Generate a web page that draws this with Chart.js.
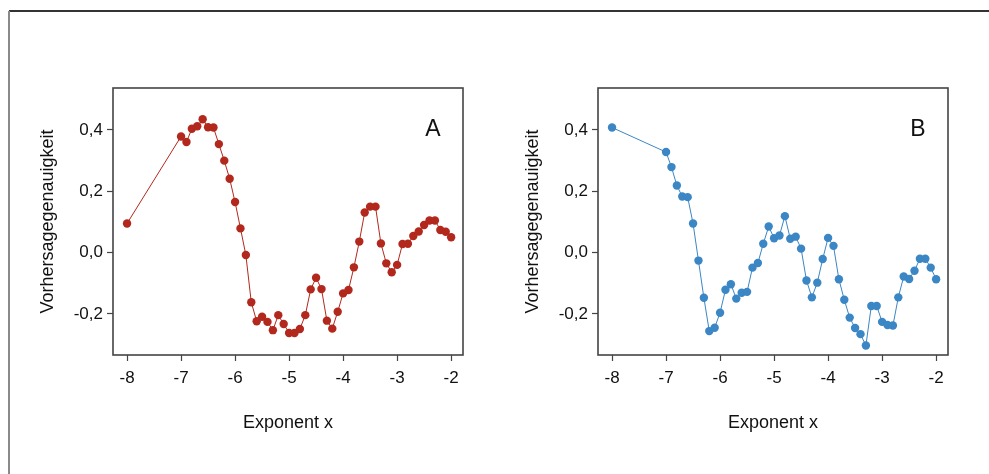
<!DOCTYPE html>
<html>
<head>
<meta charset="utf-8">
<script src="https://cdn.jsdelivr.net/npm/chart.js@4.4.1/dist/chart.umd.min.js"></script>
<style>
  html, body { margin: 0; padding: 0; background: #fff; }
  body { width: 989px; height: 474px; position: relative; overflow: hidden; }
  .frame-top { position: absolute; left: 9px; top: 10px; width: 980px; height: 0; border-top: 2px solid #333; }
  .frame-left { position: absolute; left: 8px; top: 11px; width: 0; height: 463px; border-left: 2px solid #8a8a8a; }
  .panel { position: absolute; top: 0; width: 490px; height: 474px; }
  #panelA { left: 0; }
  #panelB { left: 485px; }
</style>
</head>
<body>
<div class="frame-top"></div>
<div class="frame-left"></div>
<div class="panel" id="panelA"><canvas id="chartA"></canvas></div>
<div class="panel" id="panelB"><canvas id="chartB"></canvas></div>
<script>
// Exponent values (x) shared by both panels
const exponents = [-8.0,
  -7.0, -6.9, -6.8, -6.7, -6.6, -6.5, -6.4, -6.3, -6.2, -6.1,
  -6.0, -5.9, -5.8, -5.7, -5.6, -5.5, -5.4, -5.3, -5.2, -5.1,
  -5.0, -4.9, -4.8, -4.7, -4.6, -4.5, -4.4, -4.3, -4.2, -4.1,
  -4.0, -3.9, -3.8, -3.7, -3.6, -3.5, -3.4, -3.3, -3.2, -3.1,
  -3.0, -2.9, -2.8, -2.7, -2.6, -2.5, -2.4, -2.3, -2.2, -2.1,
  -2.0];

// Panel A: Vorhersagegenauigkeit
const accuracyA = [0.095,
  0.379, 0.361, 0.404, 0.412, 0.435, 0.409, 0.408, 0.354, 0.300, 0.241,
  0.165, 0.079, -0.008, -0.162, -0.224, -0.209, -0.226, -0.253, -0.204, -0.233,
  -0.262, -0.262, -0.249, -0.204, -0.120, -0.082, -0.119, -0.222, -0.248, -0.193,
  -0.133, -0.122, -0.048, 0.036, 0.131, 0.150, 0.150, 0.030, -0.035, -0.064,
  -0.040, 0.028, 0.029, 0.054, 0.069, 0.090, 0.105, 0.105, 0.074, 0.068,
  0.050];

// Panel B: Vorhersagegenauigkeit
const accuracyB = [0.408,
  0.328, 0.279, 0.219, 0.183, 0.181, 0.095, -0.026, -0.147, -0.256, -0.245,
  -0.196, -0.121, -0.103, -0.150, -0.131, -0.128, -0.049, -0.034, 0.029, 0.085,
  0.047, 0.056, 0.119, 0.045, 0.052, 0.013, -0.091, -0.146, -0.098, -0.021,
  0.048, 0.022, -0.087, -0.154, -0.212, -0.246, -0.266, -0.303, -0.174, -0.174,
  -0.226, -0.236, -0.238, -0.146, -0.078, -0.086, -0.059, -0.020, -0.020, -0.049,
  -0.087];

const xTicks = [-8, -7, -6, -5, -4, -3, -2];
const yTicks = [-0.2, 0.0, 0.2, 0.4];

const FONT = "'Liberation Sans', Arial, sans-serif";
const AXIS_COLOR = '#444';

// box around the plot area plus the panel letter
const panelBox = {
  id: 'panelBox',
  afterDraw(chart, args, opts) {
    const { ctx, chartArea: a } = chart;
    ctx.save();
    ctx.strokeStyle = AXIS_COLOR;
    ctx.lineWidth = 1.6;
    ctx.strokeRect(a.left, a.top, a.right - a.left, a.bottom - a.top);
    ctx.fillStyle = '#111';
    ctx.font = '23px ' + FONT;
    ctx.textAlign = 'center';
    ctx.textBaseline = 'middle';
    ctx.fillText(opts.letter, a.right + opts.dx, a.top + 42);
    ctx.restore();
  }
};

function makeChart(id, values, color, letter, dx) {
  const points = exponents.map((x, i) => ({ x: x, y: values[i] }));
  return new Chart(document.getElementById(id).getContext('2d'), {
    type: 'scatter',
    data: {
      datasets: [{
        data: points,
        showLine: true,
        borderColor: color,
        borderWidth: 1,
        backgroundColor: color,
        pointBackgroundColor: color,
        pointBorderWidth: 0,
        pointRadius: 4.2,
        tension: 0
      }]
    },
    options: {
      responsive: true,
      maintainAspectRatio: false,
      animation: false,
      events: [],
      layout: { padding: { left: 0, top: 88, right: 27, bottom: 0 } },
      plugins: {
        legend: { display: false },
        tooltip: { enabled: false },
        panelBox: { letter: letter, dx: dx }
      },
      scales: {
        x: {
          type: 'linear',
          min: -8.26,
          max: -1.78,
          afterFit: s => { s.height = 119; },
          afterBuildTicks: s => { s.ticks = xTicks.map(v => ({ value: v })); },
          grid: { drawOnChartArea: false, drawTicks: true, tickLength: 6, tickColor: AXIS_COLOR, tickWidth: 1.2 },
          border: { display: false },
          ticks: {
            padding: 7,
            color: '#111',
            font: { family: FONT, size: 17 },
            callback: v => String(v)
          },
          title: {
            display: true,
            text: 'Exponent x',
            color: '#111',
            font: { family: FONT, size: 18 },
            padding: { top: 0, bottom: 40 }
          }
        },
        y: {
          type: 'linear',
          min: -0.334,
          max: 0.537,
          afterFit: s => { s.width = 113; },
          afterBuildTicks: s => { s.ticks = yTicks.map(v => ({ value: v })); },
          grid: { drawOnChartArea: false, drawTicks: true, tickLength: 6, tickColor: AXIS_COLOR, tickWidth: 1.2 },
          border: { display: false },
          ticks: {
            padding: 4,
            color: '#111',
            font: { family: FONT, size: 17 },
            callback: v => v.toFixed(1).replace('.', ',')
          },
          title: {
            display: true,
            text: 'Vorhersagegenauigkeit',
            color: '#111',
            font: { family: FONT, size: 18 },
            padding: { top: 37, bottom: 0 }
          }
        }
      }
    },
    plugins: [panelBox]
  });
}

makeChart('chartA', accuracyA, '#b3281d', 'A', -30);
makeChart('chartB', accuracyB, '#3b86c5', 'B', -30);
</script>
</body>
</html>
